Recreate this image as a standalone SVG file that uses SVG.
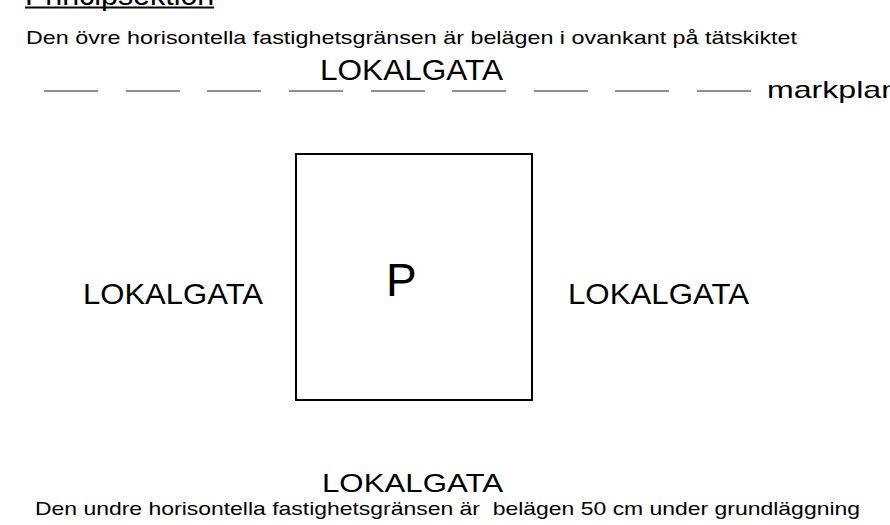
<svg xmlns="http://www.w3.org/2000/svg" width="890" height="525" viewBox="0 0 890 525">
<style>
text{font-family:"Liberation Sans",Arial,sans-serif;fill:#000}
.street{font-size:30px}
.note{font-size:19px}
.dash{stroke:#6a6a6a;stroke-width:1.6;fill:none}
</style>
<rect width="890" height="525" fill="#fff"/>
<g id="title">
<text x="25" y="5" style="font-size:30.4px">Principsektion</text>
<line x1="25" y1="7.5" x2="214" y2="7.5" stroke="#000" stroke-width="2"/>
</g>
<g id="top-note">
<text class="note" x="26" y="44" textLength="771" lengthAdjust="spacingAndGlyphs">Den övre horisontella fastighetsgränsen är belägen i ovankant på tätskiktet</text>
</g>
<g id="top-street">
<text class="street" x="320" y="80" textLength="183" lengthAdjust="spacingAndGlyphs">LOKALGATA</text>
</g>
<g id="markplan">
<g class="dash">
<line x1="44" y1="91" x2="98" y2="91"/>
<line x1="126" y1="91" x2="180" y2="91"/>
<line x1="207" y1="91" x2="261" y2="91"/>
<line x1="289" y1="91" x2="343" y2="91"/>
<line x1="371" y1="91" x2="425" y2="91"/>
<line x1="452" y1="91" x2="506" y2="91"/>
<line x1="534" y1="91" x2="588" y2="91"/>
<line x1="615" y1="91" x2="669" y2="91"/>
<line x1="697" y1="91" x2="751" y2="91"/>
</g>
<text x="767" y="98" style="font-size:24px" textLength="132" lengthAdjust="spacingAndGlyphs">markplan</text>
</g>
<g id="property">
<rect x="296" y="154" width="236" height="246" fill="none" stroke="#000" stroke-width="2"/>
<text x="386" y="296" style="font-size:46px">P</text>
</g>
<g id="left-street">
<text class="street" x="83" y="304" textLength="180" lengthAdjust="spacingAndGlyphs">LOKALGATA</text>
</g>
<g id="right-street">
<text class="street" x="568" y="304" textLength="181" lengthAdjust="spacingAndGlyphs">LOKALGATA</text>
</g>
<g id="bottom-street">
<text class="street" x="322" y="492" style="font-size:26px" textLength="181" lengthAdjust="spacingAndGlyphs">LOKALGATA</text>
</g>
<g id="bottom-note">
<text class="note" x="35" y="515" textLength="825" lengthAdjust="spacingAndGlyphs" xml:space="preserve">Den undre horisontella fastighetsgränsen är  belägen 50 cm under grundläggning</text>
</g>
</svg>
